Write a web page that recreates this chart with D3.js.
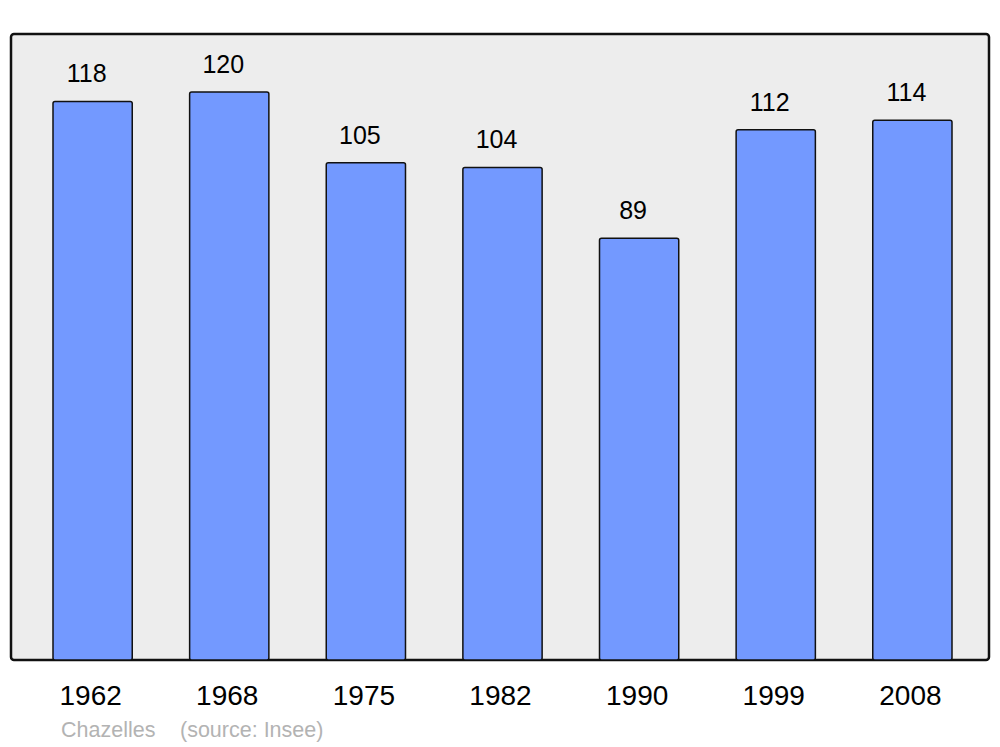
<!DOCTYPE html>
<html><head><meta charset="utf-8">
<script src="https://cdn.jsdelivr.net/npm/d3@7"></script>
<style>body{margin:0;background:#fff}svg{display:block}</style>
</head><body>
<script>
const years = ["1962","1968","1975","1982","1990","1999","2008"];
const population = [118,120,105,104,89,112,114];
const place = "Chazelles";
const source = "(source: Insee)";

const W = 1000, H = 747;
const svg = d3.select("body").append("svg").attr("width", W).attr("height", H);
const font = "'Liberation Sans', Arial, sans-serif";

const frame = {x0: 11, x1: 989, y0: 34, y1: 660};
svg.append("rect").attr("x", frame.x0).attr("y", frame.y0)
  .attr("width", frame.x1 - frame.x0).attr("height", frame.y1 - frame.y0)
  .attr("rx", 3).attr("fill", "#ededed").attr("stroke", "#111").attr("stroke-width", 2.5);

const x = d3.scaleBand().domain(years).range([53, 952]).paddingInner(0.42).paddingOuter(0);
const y = d3.scaleLinear().domain([0, 120]).range([658, 92]);

svg.append("g").selectAll("rect").data(population).join("rect")
  .attr("x", (d, i) => x(years[i]))
  .attr("y", d => y(d))
  .attr("width", x.bandwidth())
  .attr("height", d => frame.y1 - y(d))
  .attr("rx", 2)
  .attr("fill", "#7399ff").attr("stroke", "#111").attr("stroke-width", 1.5);

svg.append("g").selectAll("text").data(population).join("text")
  .attr("x", (d, i) => x(years[i]) + x.bandwidth() / 2 - 6)
  .attr("y", d => y(d) - 19)
  .attr("text-anchor", "middle").attr("font-family", font).attr("font-size", 25)
  .attr("fill", "#000").text(d => d);

const axis = d3.axisBottom(x).tickSize(0).tickPadding(0);
const gx = svg.append("g").attr("transform", `translate(-2,${frame.y1})`).call(axis);
gx.select(".domain").remove();
gx.selectAll("text").attr("font-family", font).attr("font-size", 28).attr("fill", "#000")
  .attr("dy", null).attr("y", 45);

svg.append("text").attr("x", 61).attr("y", 737).attr("font-family", font).attr("font-size", 21.5)
  .attr("fill", "#b3b3b3").text(place);
svg.append("text").attr("x", 180).attr("y", 737).attr("font-family", font).attr("font-size", 21.5)
  .attr("fill", "#b3b3b3").text(source);
</script>
</body></html>
